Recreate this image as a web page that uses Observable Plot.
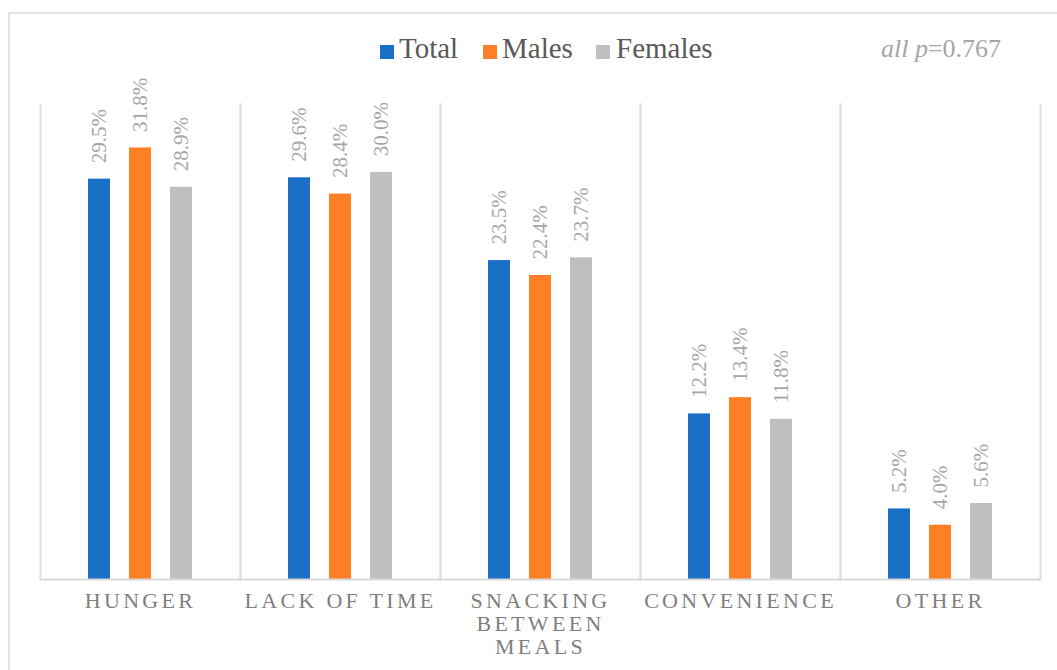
<!DOCTYPE html>
<html>
<head>
<meta charset="utf-8">
<script src="https://cdn.jsdelivr.net/npm/d3@7"></script>
<script src="https://cdn.jsdelivr.net/npm/@observablehq/plot@0.6"></script>
<style>
  html, body { margin: 0; padding: 0; background: #fff; }
  body { position: relative; width: 1057px; height: 670px; overflow: hidden;
         font-family: "Liberation Serif", "DejaVu Serif", serif; }
  #frame { position: absolute; left: 8px; top: 12px; width: 1070px; height: 700px;
           border: 2px solid #e3e3e3; box-sizing: border-box; }
  #legend { position: absolute; left: 0; top: 0; width: 1057px; height: 80px;
            font-family: "Liberation Serif", serif; font-size: 29px; color: #595959; }
  #legend .sw { position: absolute; width: 14px; height: 14px; top: 45px; }
  #legend .lab { position: absolute; top: 33px; line-height: 30px; white-space: nowrap; }
  #pval { position: absolute; left: 881px; top: 34px; line-height: 30px; font-size: 26px; color: #a6a6a6;
          font-family: "Liberation Serif", serif; white-space: nowrap; }
  #chart { position: absolute; left: 0; top: 0; }
  #chart svg g[aria-label="fx-axis tick label"] text { letter-spacing: 3.3px; }
</style>
</head>
<body>
<div id="frame"></div>
<div id="chart"></div>
<div id="legend"></div>
<div id="pval"><i>all p</i>=0.767</div>
<script>
const categories = ["HUNGER", "LACK OF TIME", "SNACKING BETWEEN MEALS", "CONVENIENCE", "OTHER"];
const series = ["Total", "Males", "Females"];
const totalValues = [29.5, 29.6, 23.5, 12.2, 5.2];
const maleValues = [31.8, 28.4, 22.4, 13.4, 4.0];
const femaleValues = [28.9, 30.0, 23.7, 11.8, 5.6];
const colors = ["#1a6fc7", "#ff7f27", "#bfbfbf"];

const valuesBySeries = [totalValues, maleValues, femaleValues];
const data = [];
categories.forEach((c, i) => {
  series.forEach((s, j) => data.push({category: c, series: s, value: valuesBySeries[j][i]}));
});

const legend = document.getElementById("legend");
const swatchX = [380, 483, 596];
const labelX = [399, 502, 616];
series.forEach((s, j) => {
  const sw = document.createElement("div");
  sw.className = "sw";
  sw.style.left = swatchX[j] + "px";
  sw.style.background = colors[j];
  legend.appendChild(sw);
  const lab = document.createElement("div");
  lab.className = "lab";
  lab.style.left = labelX[j] + "px";
  lab.textContent = s;
  legend.appendChild(lab);
});

const chart = Plot.plot({
  width: 1057,
  height: 670,
  marginLeft: 40,
  marginRight: 17,
  marginTop: 104,
  marginBottom: 91,
  style: {fontFamily: '"Liberation Serif", "DejaVu Serif", serif', background: "transparent"},
  fx: {domain: categories, padding: 0, label: null},
  x: {domain: series, paddingInner: 0.463, paddingOuter: 1.17, axis: null},
  y: {domain: [0, 35], axis: null},
  color: {domain: series, range: colors},
  marks: [
    Plot.frame({anchor: "left", stroke: "#e0e0e0", strokeWidth: 2}),
    Plot.frame({anchor: "right", stroke: "#e0e0e0", strokeWidth: 2}),
    Plot.barY(data, {fx: "category", x: "series", y: "value", fill: "series"}),
    Plot.ruleY([0], {stroke: "#d9d9d9", strokeWidth: 2}),
    Plot.text(data, {fx: "category", x: "series", y: "value", text: d => d.value.toFixed(1) + "%",
      rotate: -90, textAnchor: "start", dy: -16, fill: "#a6a6a6", fontSize: 21}),
    Plot.axisFx({anchor: "bottom", tickSize: 0, tickPadding: 12, fontSize: 22, fill: "#7f7f7f",
      lineAnchor: "top", lineHeight: 1.05, label: null,
      tickFormat: d => d.length > 15 ? d.split(" ").join("\n") : d})
  ]
});
document.getElementById("chart").appendChild(chart);
</script>
</body>
</html>
